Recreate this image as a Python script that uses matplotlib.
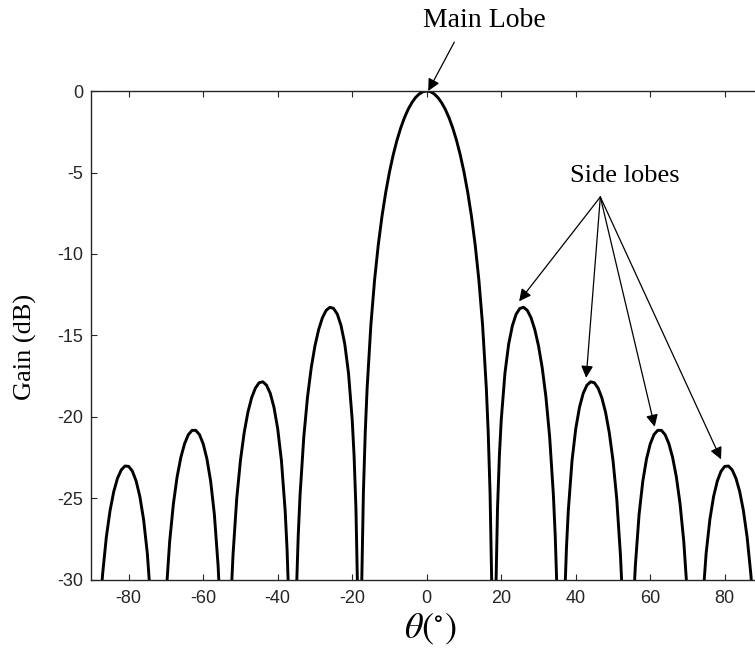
import numpy as np
import matplotlib.pyplot as plt

# array gain pattern (deg, dB), left half then right half
theta_left = [-89.5, -89, -88.5, -88, -87.5, -87, -86, -85, -84, -83, -82, -81, -80, -79, -78, -77, -76, -75, -74, -73.5, -73, -72.5,
              -71.5, -71, -70.5, -70, -69, -68, -67, -66, -65, -64, -63, -62, -61, -60, -59, -58, -57, -56, -55.5, -55, -54.5,
              -53.5, -53, -52.5, -52, -51, -50, -49, -48, -47, -46, -45, -44, -43, -42, -41, -40, -39, -38, -37.5, -37, -36.5,
              -35.5, -35, -34.5, -34, -33, -32, -31, -30, -29, -28, -27, -26, -25, -24, -23, -22, -21, -20, -19.5, -19, -18.5,
              -17.5, -17, -16.5, -16, -15, -14, -13, -12, -11, -10, -9, -8, -7, -6, -5, -4, -3, -2, -1]
gain_left = [-45.07, -39.03, -35.52, -33.05, -31.16, -29.65, -27.37, -25.74, -24.57, -23.76, -23.25, -23.01, -23.03, -23.33, -23.93, -24.88, -26.29, -28.36, -31.54, -33.90, -37.31, -43.24,
             -43.12, -37.07, -33.54, -31.06, -27.64, -25.33, -23.67, -22.48, -21.64, -21.09, -20.82, -20.82, -21.08, -21.65, -22.57, -23.94, -25.98, -29.12, -31.46, -34.85, -40.76,
             -40.60, -34.53, -30.98, -28.48, -25.01, -22.66, -20.96, -19.71, -18.82, -18.23, -17.90, -17.84, -18.05, -18.55, -19.41, -20.72, -22.68, -25.75, -28.06, -31.41, -37.28,
             -37.04, -30.93, -27.33, -24.79, -21.23, -18.78, -16.98, -15.63, -14.63, -13.91, -13.46, -13.27, -13.34, -13.69, -14.39, -15.52, -17.30, -20.18, -22.38, -25.62, -31.38,
             -30.89, -24.65, -20.93, -18.24, -14.38, -11.60, -9.43, -7.67, -6.21, -4.97, -3.92, -3.03, -2.28, -1.65, -1.13, -0.72, -0.40, -0.18, -0.04]

theta_right = [0, 1, 2, 3, 4, 5, 6, 7, 8, 9, 10, 11, 12, 13, 14, 15, 16, 16.5, 17, 17.5,
               18.5, 19, 19.5, 20, 21, 22, 23, 24, 25, 26, 27, 28, 29, 30, 31, 32, 33, 34, 34.5, 35, 35.5,
               36.5, 37, 37.5, 38, 39, 40, 41, 42, 43, 44, 45, 46, 47, 48, 49, 50, 51, 52, 52.5, 53, 53.5,
               54.5, 55, 55.5, 56, 57, 58, 59, 60, 61, 62, 63, 64, 65, 66, 67, 68, 69, 70, 70.5, 71, 71.5,
               72.5, 73, 73.5, 74, 75, 76, 77, 78, 79, 80, 81, 82, 83, 84, 85, 86, 87, 87.5, 88, 88.5, 89, 89.5]
gain_right = [0.00, -0.04, -0.18, -0.40, -0.72, -1.13, -1.65, -2.28, -3.03, -3.92, -4.97, -6.21, -7.67, -9.43, -11.60, -14.38, -18.24, -20.93, -24.65, -30.89,
              -31.38, -25.62, -22.38, -20.18, -17.30, -15.52, -14.39, -13.69, -13.34, -13.27, -13.46, -13.91, -14.63, -15.63, -16.98, -18.78, -21.23, -24.79, -27.33, -30.93, -37.04,
              -37.28, -31.41, -28.06, -25.75, -22.68, -20.72, -19.41, -18.55, -18.05, -17.84, -17.90, -18.23, -18.82, -19.71, -20.96, -22.66, -25.01, -28.48, -30.98, -34.53, -40.60,
              -40.76, -34.85, -31.46, -29.12, -25.98, -23.94, -22.57, -21.65, -21.08, -20.82, -20.82, -21.09, -21.64, -22.48, -23.67, -25.33, -27.64, -31.06, -33.54, -37.07, -43.12,
              -43.24, -37.31, -33.90, -31.54, -28.36, -26.29, -24.88, -23.93, -23.33, -23.03, -23.01, -23.25, -23.76, -24.57, -25.74, -27.37, -29.65, -31.16, -33.05, -35.52, -39.03, -45.07]

x_ticks = [-80, -60, -40, -20, 0, 20, 40, 60, 80]
y_ticks = [-30, -25, -20, -15, -10, -5, 0]

plt.rcParams['font.family'] = 'Liberation Serif'
plt.rcParams['mathtext.fontset'] = 'stix'
plt.rcParams['axes.unicode_minus'] = False

fig = plt.figure(figsize=(7.55, 6.51), dpi=100)
ax = fig.add_axes([0.1211, 0.1091, 0.8882, 0.7511])

ax.plot(theta_left + theta_right, gain_left + gain_right, color='k', lw=2.1)

ax.set_xlim(-90, 90)
ax.set_ylim(-30, 0)
ax.set_xticks(x_ticks)
ax.set_yticks(y_ticks)
ax.tick_params(direction='in', top=True, right=True, length=4.5, width=0.8,
               color='#262626', labelcolor='#262626', labelsize=13)
ax.tick_params(axis='x', pad=7)
ax.tick_params(axis='y', pad=6)
for lbl in ax.get_xticklabels() + ax.get_yticklabels():
    lbl.set_family('Liberation Sans')
for sp in ax.spines.values():
    sp.set_color('#262626')
    sp.set_linewidth(1.0)

ax.set_xlabel(r'$\theta(^{\circ})$', fontsize=26)
ax.xaxis.set_label_coords(0.505, -0.066)
ax.set_ylabel('Gain (dB)', fontsize=19)
ax.yaxis.label.set_va('center')
ax.yaxis.set_label_coords(-0.098, 0.476)

# annotations
arrow = dict(arrowstyle='-|>', color='k', lw=0.9, mutation_scale=18, shrinkA=0, shrinkB=0)
ax.text(15.6, 4.3, 'Main Lobe', ha='center', va='center', fontsize=20, clip_on=False)
ax.annotate('', xy=(0.4, 0.0), xytext=(7.4, 3.0), arrowprops=arrow, annotation_clip=False)

ax.text(53.3, -5.2, 'Side lobes', ha='center', va='center', fontsize=19)
for tip in [(24.8, -12.9), (42.8, -17.6), (61.2, -20.6), (79.0, -22.6)]:
    ax.annotate('', xy=tip, xytext=(46.6, -6.5), arrowprops=arrow)

fig.savefig('out.png', dpi=100)
